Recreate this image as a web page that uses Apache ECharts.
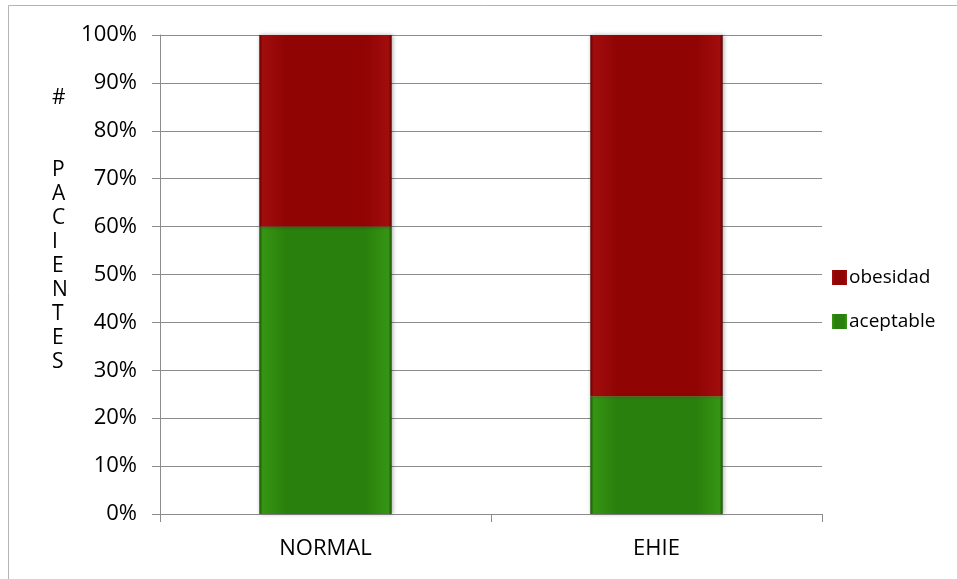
<!DOCTYPE html>
<html>
<head>
<meta charset="utf-8">
<script src="https://cdn.jsdelivr.net/npm/echarts@6/dist/echarts.min.js"></script>
<style>
  html, body { margin: 0; padding: 0; background: #fff; }
  #chart { width: 957px; height: 579px; }
</style>
</head>
<body>
<div id="chart"></div>
<script>
// Category names and stacked shares (%) per group
const categories = ['NORMAL', 'EHIE'];
const aceptable = [60, 24.6];
const obesidad = [40, 75.4];
const yTicks = [0, 10, 20, 30, 40, 50, 60, 70, 80, 90, 100];
const yTitle = '#\n\n\nP\nA\nC\nI\nE\nN\nT\nE\nS';

const FONT = '"Open Sans", "Noto Sans", sans-serif';

// Beveled bar fill: thin dark edges, nearly flat body
function bevel(edge, mid, hi) {
  return new echarts.graphic.LinearGradient(0, 0, 1, 0, [
    { offset: 0, color: edge },
    { offset: 0.025, color: hi },
    { offset: 0.2, color: mid },
    { offset: 0.8, color: mid },
    { offset: 0.975, color: hi },
    { offset: 1, color: edge }
  ]);
}

const chart = echarts.init(document.getElementById('chart'), null, { renderer: 'canvas' });

chart.setOption({
  animation: false,
  backgroundColor: '#ffffff',
  color: ['#2c820d', '#930606'],
  grid: { left: 160, right: 135, top: 35, bottom: 65, containLabel: false },
  graphic: [
    {
      type: 'rect',
      shape: { x: 8.5, y: 5.5, width: 960, height: 600 },
      style: { fill: 'none', stroke: '#b4b4b4', lineWidth: 1 },
      silent: true
    },
    {
      type: 'text',
      left: 52,
      top: 86,
      style: {
        text: yTitle,
        font: '21px ' + FONT,
        fill: '#000',
        align: 'center',
        lineHeight: 24
      }
    }
  ],
  legend: {
    orient: 'vertical',
    left: 827,
    top: 263,
    itemWidth: 15,
    itemHeight: 15,
    itemGap: 25,
    icon: 'rect',
    data: ['obesidad', 'aceptable'],
    textStyle: { fontFamily: FONT, fontSize: 19, color: '#000', padding: [0, 0, 0, -3] }
  },
  xAxis: {
    type: 'category',
    data: categories,
    boundaryGap: true,
    axisLine: { show: true, lineStyle: { color: '#8c8c8c', width: 1 } },
    axisTick: { show: true, length: 8, lineStyle: { color: '#8c8c8c' } },
    axisLabel: { fontFamily: FONT, fontSize: 22, color: '#000', margin: 24 }
  },
  yAxis: {
    type: 'value',
    min: 0,
    max: 100,
    interval: 10,
    axisLine: { show: true, lineStyle: { color: '#8c8c8c', width: 1 } },
    axisTick: { show: true, length: 8, lineStyle: { color: '#8c8c8c' } },
    axisLabel: {
      fontFamily: FONT,
      fontSize: 22,
      color: '#000',
      margin: 23,
      formatter: v => (yTicks.includes(v) ? v + '%' : '')
    },
    splitLine: { show: true, lineStyle: { color: '#8c8c8c', width: 1 } }
  },
  series: [
    {
      name: 'aceptable',
      type: 'bar',
      stack: 'total',
      barWidth: '40%',
      data: aceptable,
      itemStyle: {
        color: bevel('#1a5206', '#2a800c', '#369514'),
        shadowColor: 'rgba(0,0,0,0.3)',
        shadowBlur: 4,
        shadowOffsetX: 1,
        shadowOffsetY: 0
      }
    },
    {
      name: 'obesidad',
      type: 'bar',
      stack: 'total',
      barWidth: '40%',
      data: obesidad,
      itemStyle: {
        color: bevel('#5e0000', '#910404', '#a10d0d'),
        shadowColor: 'rgba(0,0,0,0.3)',
        shadowBlur: 4,
        shadowOffsetX: 1,
        shadowOffsetY: 0
      }
    }
  ]
});
</script>
</body>
</html>
